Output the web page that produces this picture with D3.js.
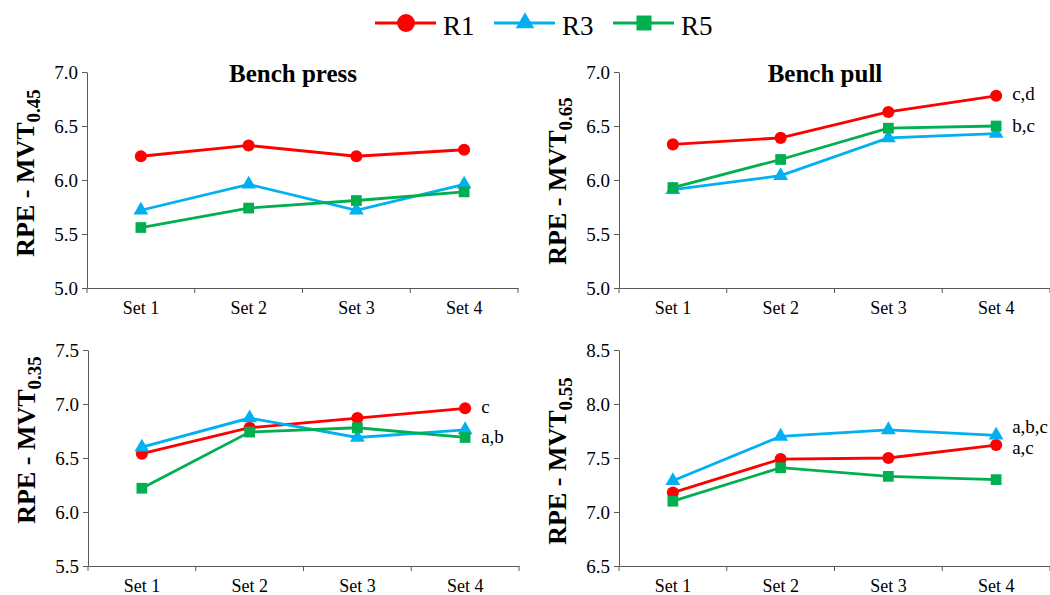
<!DOCTYPE html>
<html>
<head>
<meta charset="utf-8">
<script src="https://cdn.jsdelivr.net/npm/d3@7"></script>
<style>
  body { margin: 0; background: #fff; }
  svg { font-family: 'Liberation Serif', 'Times New Roman', serif; }
</style>
</head>
<body>
<svg id="chart" width="1050" height="595"></svg>
<script>
const sets = ['Set 1', 'Set 2', 'Set 3', 'Set 4']
const seriesNames = ['R1', 'R3', 'R5']

// Bench press, MVT 0.45
const pressR1 = [6.22, 6.32, 6.22, 6.28]
const pressR3 = [5.72, 5.96, 5.72, 5.96]
const pressR5 = [5.56, 5.74, 5.81, 5.89]
// Bench pull, MVT 0.65
const pullR1 = [6.33, 6.39, 6.63, 6.78]
const pullR3 = [5.91, 6.04, 6.39, 6.43]
const pullR5 = [5.93, 6.19, 6.48, 6.50]
// Bench press, MVT 0.35
const press35R1 = [6.54, 6.78, 6.87, 6.96]
const press35R3 = [6.60, 6.87, 6.69, 6.76]
const press35R5 = [6.22, 6.74, 6.78, 6.69]
// Bench pull, MVT 0.55
const pull55R1 = [7.18, 7.49, 7.50, 7.62]
const pull55R3 = [7.29, 7.70, 7.76, 7.71]
const pull55R5 = [7.10, 7.41, 7.33, 7.30]

const ticksA = [5.0, 5.5, 6.0, 6.5, 7.0]
const ticksB = [5.5, 6.0, 6.5, 7.0, 7.5]
const ticksC = [6.5, 7.0, 7.5, 8.0, 8.5]

const pullNotes = [{ text: 'c,d', series: 'R1' }, { text: 'b,c', series: 'R5' }]
const press35Notes = [{ text: 'c', series: 'R1' }, { text: 'a,b', series: 'R5' }]
const pull55Notes = [{ text: 'a,b,c', series: 'R3' }, { text: 'a,c', series: 'R1' }]

const colors = { R1: '#ff0000', R3: '#00b0f0', R5: '#00b050' }
const symbols = { R1: d3.symbolCircle, R3: d3.symbolTriangle, R5: d3.symbolSquare }
const markSize = { R1: 115, R3: 95, R5: 115 }
const axisColor = '#595959'

const panels = [
  { left: 87, top: 72, title: 'Bench press', sub: '0.45', ticks: ticksA, labelY: 173,
    data: { R1: pressR1, R3: pressR3, R5: pressR5 }, notes: [] },
  { left: 619, top: 72, title: 'Bench pull', sub: '0.65', ticks: ticksA, labelY: 181,
    data: { R1: pullR1, R3: pullR3, R5: pullR5 }, notes: pullNotes, noteShift: [4, 6] },
  { left: 88, top: 350, title: '', sub: '0.35', ticks: ticksB, labelY: 440,
    data: { R1: press35R1, R3: press35R3, R5: press35R5 }, notes: press35Notes, noteShift: [5, 6] },
  { left: 619, top: 350, title: '', sub: '0.55', ticks: ticksC, labelY: 461,
    data: { R1: pull55R1, R3: pull55R3, R5: pull55R5 }, notes: pull55Notes, noteShift: [-2, 9] }
]
const plotW = 431
const plotH = 216

const svg = d3.select('#chart')

panels.forEach(p => {
  const g = svg.append('g').attr('transform', `translate(${p.left},${p.top})`)

  const x = d3.scaleBand().domain(sets).range([0, plotW])
  const y = d3.scaleLinear()
    .domain([p.ticks[0], p.ticks[p.ticks.length - 1]])
    .range([plotH, 0])

  const yAxis = g.append('g')
    .call(d3.axisLeft(y).tickValues(p.ticks).tickFormat(d3.format('.1f')).tickSize(5).tickPadding(4).tickSizeOuter(0))
    .attr('font-family', null)
    .attr('font-size', 19)
  yAxis.selectAll('text').attr('fill', '#000')

  const xAxis = g.append('g')
    .attr('transform', `translate(0,${plotH})`)
    .call(d3.axisBottom(x).tickSize(0).tickPadding(13).tickSizeOuter(0))
    .attr('font-family', null)
    .attr('font-size', 18)
  xAxis.selectAll('text').attr('fill', '#000')
  // tick marks sit on the band edges, not the centres
  xAxis.selectAll('.edge')
    .data(sets.map(s => x(s)).concat([plotW]))
    .join('line')
      .attr('x1', d => d).attr('x2', d => d)
      .attr('y1', 0).attr('y2', 5)
      .attr('stroke', axisColor)

  g.selectAll('.domain, .tick line').attr('stroke', axisColor)

  const cx = s => x(s) + x.bandwidth() / 2
  const line = d3.line()
    .x((d, i) => cx(sets[i]))
    .y(d => y(d))

  seriesNames.forEach(name => {
    const vals = p.data[name]
    g.append('path')
      .datum(vals)
      .attr('d', line)
      .attr('fill', 'none')
      .attr('stroke', colors[name])
      .attr('stroke-width', 2.8)
  })
  seriesNames.forEach(name => {
    g.selectAll(null)
      .data(p.data[name])
      .join('path')
        .attr('transform', (d, i) => `translate(${cx(sets[i])},${y(d)})`)
        .attr('d', d3.symbol(symbols[name], markSize[name]))
        .attr('fill', colors[name])
  })

  p.notes.forEach((n, i) => {
    const vals = p.data[n.series]
    g.append('text')
      .attr('x', cx(sets[3]) + 16)
      .attr('y', y(vals[3]) + p.noteShift[i])
      .attr('font-size', 19)
      .text(n.text)
  })

  if (p.title) {
    g.append('text')
      .attr('x', 206)
      .attr('y', 10)
      .attr('text-anchor', 'middle')
      .attr('font-size', 25)
      .attr('font-weight', 'bold')
      .text(p.title)
  }

  const label = svg.append('text')
    .attr('transform', `translate(${p.left - 53},${p.labelY}) rotate(-90)`)
    .attr('text-anchor', 'middle')
    .attr('font-size', 26)
    .attr('font-weight', 'bold')
  label.append('tspan').text('RPE - MVT')
  label.append('tspan').attr('font-size', 19).attr('dy', 6).text(p.sub)
})

// legend
const legendX = { R1: 375, R3: 494, R5: 613 }
const legend = svg.append('g').attr('transform', 'translate(0,23)')
const legendSize = { R1: 250, R3: 150, R5: 225 }
seriesNames.forEach(name => {
  const lx = legendX[name]
  legend.append('line')
    .attr('x1', lx).attr('x2', lx + 61)
    .attr('stroke', colors[name]).attr('stroke-width', 3)
  legend.append('path')
    .attr('transform', `translate(${lx + 31},0)`)
    .attr('d', d3.symbol(symbols[name], legendSize[name]))
    .attr('fill', colors[name])
  legend.append('text')
    .attr('x', lx + 68)
    .attr('y', 12)
    .attr('font-size', 27)
    .text(name)
})
</script>
</body>
</html>
